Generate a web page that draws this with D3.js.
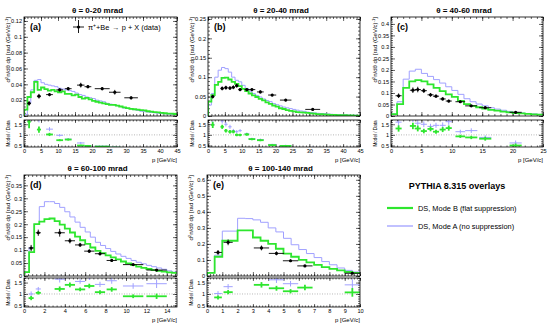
<!DOCTYPE html>
<html>
<head>
<meta charset="UTF-8">
<title>PYTHIA 8.315 overlays</title>
<script src="https://d3js.org/d3.v7.min.js"></script>
<style>
  body { margin: 0; background: #fff; }
  svg { font-family: "Liberation Sans", Arial, sans-serif; }
  .frame { fill: none; stroke: #000; stroke-width: 0.8; }
  .axis path.domain { display: none; }
  .axis line { stroke: #000; stroke-width: 0.6; }
  .axis text { font-size: 5.6px; fill: #000; font-family: "Liberation Sans", Arial, sans-serif; }
  .title { font-size: 8px; font-weight: bold; text-anchor: middle; }
  .tag { font-size: 9px; font-weight: bold; }
  .ytitle { font-size: 6px; text-anchor: end; }
  .rtitle { font-size: 4.6px; text-anchor: middle; }
  .xtitle { font-size: 6px; text-anchor: end; }
  .unity { stroke: #888; stroke-width: 0.6; stroke-dasharray: 1,1.5; }
  .leg { font-size: 7.4px; fill: #000; }
</style>
</head>
<body>
<svg id="chart" width="550" height="326"></svg>
<script>
// ---- panel text ----
const titles = ["θ = 0-20 mrad", "θ = 20-40 mrad", "θ = 40-60 mrad", "θ = 60-100 mrad", "θ = 100-140 mrad"];
const tags = ["(a)", "(b)", "(c)", "(d)", "(e)"];
const xMax = [45, 45, 25, 15, 10];
const yMax = [0.125, 0.255, 0.43, 0.39, 0.63];
const binWidth = [1, 1, 1, 0.5, 0.5];
const xMajor = [5, 5, 5, 2, 1];
const yMajor = [0.02, 0.05, 0.05, 0.05, 0.1];

// ---- (a) 0-20 mrad ----
const aP = [1.5, 4.4, 7.5, 10.5, 13.0, 16.7, 18.8, 23.0, 26.7, 31.5];
const aY = [0.016, 0.025, 0.027, 0.033, 0.0345, 0.039, 0.037, 0.0345, 0.030, 0.023];
const aXe = [0.5, 0.6, 1, 1, 1, 1.1, 1, 2.2, 1.7, 2];
const aYe = [0.003, 0.003, 0.002, 0.002, 0.002, 0.003, 0.002, 0.002, 0.003, 0.002];
const aRatioB = [1.62, 1.25, 1.02, 0.75, 0.78, 0.50, 0.48, 0.45, 0.40, 0.38];
const aRatioA = [1.65, 1.80, 1.27, 0.98, 0.80, 0.62, 0.50, 0.47, 0.42, 0.40];
const aHistB = [0.008, 0.024, 0.030, 0.043, 0.033, 0.036, 0.034, 0.032, 0.033, 0.031, 0.030, 0.031, 0.028, 0.028, 0.026,
  0.027, 0.024, 0.022, 0.023, 0.021, 0.019, 0.018, 0.017, 0.016, 0.015, 0.014, 0.014, 0.013, 0.012, 0.011,
  0.010, 0.009, 0.0085, 0.008, 0.0075, 0.007, 0.006, 0.0055, 0.005, 0.0045, 0.004, 0.0035, 0.003, 0.003, 0.0025];
const aHistA = [0.002, 0.016, 0.033, 0.045, 0.046, 0.042, 0.040, 0.039, 0.038, 0.037, 0.035, 0.034, 0.033, 0.032, 0.031,
  0.029, 0.027, 0.026, 0.024, 0.023, 0.022, 0.020, 0.019, 0.018, 0.016, 0.015, 0.014, 0.013, 0.012, 0.010,
  0.0095, 0.009, 0.008, 0.007, 0.006, 0.0055, 0.005, 0.0045, 0.004, 0.0035, 0.003, 0.0028, 0.0025, 0.002, 0.002];

// ---- (b) 20-40 mrad ----
const bP = [1.4, 4.2, 5.3, 6.5, 7.5, 8.5, 9.5, 11.5, 13.0, 15.5, 19.0, 23.0, 31.0];
const bY = [0.050, 0.071, 0.073, 0.072, 0.074, 0.078, 0.068, 0.068, 0.068, 0.062, 0.054, 0.041, 0.017];
const bXe = [0.5, 0.5, 0.5, 0.5, 0.5, 0.5, 0.5, 0.7, 1, 1, 1.2, 1.7, 2.2];
const bYe = [0.005, 0.005, 0.005, 0.005, 0.005, 0.005, 0.004, 0.004, 0.004, 0.004, 0.003, 0.003, 0.002];
const bRatioB = [1.47, 1.38, 1.20, 1.15, 1.15, 1.00, 1.00, 1.02, 0.80, 0.75, 0.52, 0.48, 0.35];
const bRatioA = [1.50, 1.65, 1.50, 1.38, 1.20, 1.15, 1.20, 1.05, 0.82, 0.78, 0.55, 0.50, 0.40];
const bHistB = [0.037, 0.054, 0.080, 0.088, 0.098, 0.099, 0.094, 0.088, 0.083, 0.077, 0.070, 0.064, 0.058, 0.053, 0.049,
  0.044, 0.040, 0.035, 0.031, 0.027, 0.024, 0.020, 0.018, 0.015, 0.013, 0.012, 0.010, 0.0095, 0.0085, 0.008,
  0.007, 0.006, 0.005, 0.0045, 0.004, 0.0035, 0.003, 0.0028, 0.0025, 0.0022, 0.002, 0.0018, 0.0015, 0.0012, 0.001];
const bHistA = [0.028, 0.058, 0.100, 0.118, 0.125, 0.122, 0.113, 0.100, 0.092, 0.088, 0.079, 0.071, 0.064, 0.058, 0.053,
  0.049, 0.044, 0.040, 0.037, 0.032, 0.029, 0.026, 0.023, 0.021, 0.019, 0.017, 0.015, 0.013, 0.012, 0.010,
  0.009, 0.008, 0.007, 0.0065, 0.006, 0.005, 0.0045, 0.004, 0.0035, 0.003, 0.003, 0.0025, 0.002, 0.002, 0.0015];

// ---- (c) 40-60 mrad ----
const cP = [1.25, 3.6, 4.4, 5.4, 6.5, 7.4, 8.5, 9.5, 11.4, 13.2, 15.5, 20.5];
const cY = [0.088, 0.112, 0.115, 0.110, 0.092, 0.086, 0.074, 0.065, 0.062, 0.044, 0.036, 0.016];
const cXe = [0.5, 0.5, 0.5, 0.5, 0.5, 0.5, 0.5, 0.5, 0.8, 1, 1, 1];
const cYe = [0.010, 0.012, 0.012, 0.010, 0.008, 0.007, 0.007, 0.006, 0.005, 0.004, 0.004, 0.003];
const cRatioB = [1.30, 1.42, 1.30, 1.18, 1.28, 1.15, 1.25, 1.32, 0.93, 0.88, 0.82, 0.50];
const cRatioA = [1.60, 1.80, 1.55, 1.50, 1.40, 1.45, 1.45, 1.62, 1.15, 1.20, 0.88, 0.62];
const cHistB = [0.008, 0.052, 0.122, 0.150, 0.156, 0.150, 0.137, 0.122, 0.108, 0.094, 0.083, 0.066, 0.052, 0.044, 0.038,
  0.032, 0.027, 0.023, 0.019, 0.016, 0.013, 0.011, 0.009, 0.007, 0.006];
const cHistA = [0.008, 0.062, 0.160, 0.195, 0.203, 0.185, 0.172, 0.158, 0.143, 0.127, 0.111, 0.094, 0.075, 0.062, 0.052,
  0.044, 0.036, 0.030, 0.025, 0.020, 0.016, 0.013, 0.011, 0.009, 0.007];

// ---- (d) 60-100 mrad ----
const dP = [0.7, 1.4, 3.5, 4.5, 5.5, 6.4, 7.45, 8.6, 10.7, 13.0];
const dY = [0.108, 0.167, 0.167, 0.136, 0.120, 0.096, 0.086, 0.060, 0.044, 0.023];
const dXe = [0.25, 0.25, 0.5, 0.5, 0.5, 0.5, 0.5, 0.5, 1, 1];
const dYe = [0.012, 0.012, 0.015, 0.010, 0.008, 0.007, 0.007, 0.005, 0.004, 0.003];
const dRatioB = [0.82, 1.05, 1.22, 1.40, 1.20, 1.35, 1.08, 1.20, 0.90, 0.90];
const dRatioA = [1.00, 1.22, 1.65, 1.85, 1.55, 1.75, 1.42, 1.58, 1.35, 1.45];
const dHistB = [0.015, 0.092, 0.200, 0.210, 0.220, 0.222, 0.212, 0.198, 0.183, 0.168, 0.152, 0.138, 0.124, 0.110, 0.097,
  0.088, 0.080, 0.072, 0.064, 0.056, 0.049, 0.042, 0.036, 0.031, 0.027, 0.023, 0.020, 0.017, 0.014, 0.012];
const dHistA = [0.015, 0.110, 0.200, 0.268, 0.287, 0.287, 0.280, 0.265, 0.248, 0.228, 0.208, 0.188, 0.170, 0.150, 0.130,
  0.118, 0.106, 0.095, 0.085, 0.076, 0.068, 0.060, 0.053, 0.047, 0.041, 0.036, 0.031, 0.026, 0.020, 0.015];

// ---- (e) 100-140 mrad ----
const eP = [0.72, 1.38, 3.56, 4.54, 5.46, 6.4, 9.5];
const eY = [0.147, 0.210, 0.175, 0.141, 0.095, 0.063, 0.017];
const eXe = [0.25, 0.3, 0.5, 0.5, 0.5, 0.5, 0.5];
const eYe = [0.015, 0.018, 0.015, 0.012, 0.008, 0.006, 0.003];
const eRatioB = [0.85, 1.08, 1.40, 1.25, 1.12, 1.28, 1.07];
const eRatioA = [1.02, 1.32, 1.95, 1.62, 1.45, 1.90, 1.40];
const eHistB = [0.020, 0.120, 0.220, 0.220, 0.285, 0.285, 0.240, 0.220, 0.200, 0.170, 0.140, 0.120, 0.100, 0.085, 0.070,
  0.055, 0.045, 0.035, 0.025, 0.020];
const eHistA = [0.020, 0.130, 0.280, 0.280, 0.360, 0.358, 0.350, 0.335, 0.300, 0.275, 0.235, 0.195, 0.165, 0.140, 0.115,
  0.090, 0.070, 0.050, 0.035, 0.025];

// ---- legend ----
const dataLabel = ["π", "+", "+Be", "→", "p + X (data)"];
const legendTitle = "PYTHIA 8.315 overlays";
const seriesNames = ["DS, Mode B (flat suppression)", "DS, Mode A (no suppression)"];

const green = "#2ee62e";
const blue = "#a0a0ff";

// pad geometry (pixels)
const pads = [
  { x0: 24, x1: 177, top: 17, mid: 116, rTop: 120, rBot: 147 },
  { x0: 208, x1: 360, top: 17, mid: 116, rTop: 120, rBot: 147 },
  { x0: 391, x1: 543, top: 17, mid: 116, rTop: 120, rBot: 147 },
  { x0: 24, x1: 177, top: 175, mid: 276, rTop: 278, rBot: 307 },
  { x0: 207, x1: 360, top: 175, mid: 276, rTop: 278, rBot: 307 }
];

const panelData = [
  [aP, aY, aXe, aYe, aRatioB, aRatioA, aHistB, aHistA],
  [bP, bY, bXe, bYe, bRatioB, bRatioA, bHistB, bHistA],
  [cP, cY, cXe, cYe, cRatioB, cRatioA, cHistB, cHistA],
  [dP, dY, dXe, dYe, dRatioB, dRatioA, dHistB, dHistA],
  [eP, eY, eXe, eYe, eRatioB, eRatioA, eHistB, eHistA]
];

const svg = d3.select("#chart");
const fmt = d => d === 0 ? "0" : String(+d.toFixed(3));

function addTicks(g, axis, scale, step, fine, len, labels) {
  const [lo, hi] = scale.domain();
  const major = d3.range(0, hi + 1e-9, step).filter(v => v >= lo - 1e-9);
  const minor = d3.range(0, hi + 1e-9, fine).filter(v => v >= lo - 1e-9);
  g.append("g").attr("class", "axis")
    .call(axis(scale).tickValues(minor).tickSize(-len / 2).tickFormat(""));
  g.append("g").attr("class", "axis")
    .call(axis(scale).tickValues(major).tickSize(-len).tickPadding(2)
      .tickFormat(labels ? fmt : ""));
}

pads.forEach((pad, k) => {
  const [p, y, xe, ye, rB, rA, hB, hA] = panelData[k];
  const x = d3.scaleLinear().domain([0, xMax[k]]).range([pad.x0, pad.x1]);
  const yU = d3.scaleLinear().domain([0, yMax[k]]).range([pad.mid, pad.top]);
  const yR = d3.scaleLinear().domain([0.43, 1.7]).range([pad.rBot, pad.rTop]);

  svg.append("text").attr("class", "title")
    .attr("x", (pad.x0 + pad.x1) / 2 - 3).attr("y", pad.top - 4).text(titles[k]);

  const defs = svg.append("defs");
  defs.append("clipPath").attr("id", "cu" + k).append("rect")
    .attr("x", pad.x0).attr("y", pad.top).attr("width", pad.x1 - pad.x0).attr("height", pad.mid - pad.top);
  defs.append("clipPath").attr("id", "cr" + k).append("rect")
    .attr("x", pad.x0).attr("y", pad.rTop).attr("width", pad.x1 - pad.x0).attr("height", pad.rBot - pad.rTop);

  // ---- upper pad ----
  const up = svg.append("g");
  const left = up.append("g").attr("transform", `translate(${pad.x0},0)`);
  addTicks(left, d3.axisLeft, yU, yMajor[k], yMajor[k] / 5, 4, true);
  const right = up.append("g").attr("transform", `translate(${pad.x1},0)`);
  addTicks(right, d3.axisRight, yU, yMajor[k], yMajor[k] / 5, 4, false);
  const topAx = up.append("g").attr("transform", `translate(0,${pad.top})`);
  addTicks(topAx, d3.axisTop, x, xMajor[k], xMajor[k] / 5, 4, false);
  const botAx = up.append("g").attr("transform", `translate(0,${pad.mid})`);
  addTicks(botAx, d3.axisBottom, x, xMajor[k], xMajor[k] / 5, 4, false);

  const edges = d3.range(0, xMax[k] + binWidth[k] / 2, binWidth[k]);
  const step = d3.line().curve(d3.curveStepAfter).x(d => x(d[0])).y(d => yU(d[1]));
  const stepPts = h => [[edges[0], 0]].concat(h.map((v, i) => [edges[i], v]), [[edges[h.length], h[h.length - 1]]]);
  const hist = up.append("g").attr("clip-path", `url(#cu${k})`);
  hist.append("path").attr("d", step(stepPts(hA))).attr("fill", "none").attr("stroke", blue).attr("stroke-width", 1);
  hist.append("path").attr("d", step(stepPts(hB))).attr("fill", "none").attr("stroke", green).attr("stroke-width", 1.8);

  const pts = hist.selectAll(".pt").data(p.map((v, i) => i)).enter().append("g");
  pts.append("line").attr("x1", i => x(p[i] - xe[i])).attr("x2", i => x(p[i] + xe[i]))
    .attr("y1", i => yU(y[i])).attr("y2", i => yU(y[i])).attr("stroke", "#000").attr("stroke-width", 0.9);
  pts.append("line").attr("x1", i => x(p[i])).attr("x2", i => x(p[i]))
    .attr("y1", i => yU(y[i] - ye[i])).attr("y2", i => yU(y[i] + ye[i])).attr("stroke", "#000").attr("stroke-width", 0.9);
  pts.append("circle").attr("cx", i => x(p[i])).attr("cy", i => yU(y[i])).attr("r", 1.6).attr("fill", "#000");

  up.append("rect").attr("class", "frame").attr("x", pad.x0).attr("y", pad.top)
    .attr("width", pad.x1 - pad.x0).attr("height", pad.mid - pad.top);

  svg.append("text").attr("class", "tag").attr("x", pad.x0 + 6).attr("y", pad.top + 13).text(tags[k]);

  const yt = svg.append("text").attr("class", "ytitle")
    .attr("transform", `translate(${pad.x0 - 14},${pad.top}) rotate(-90)`);
  yt.append("tspan").text("d");
  yt.append("tspan").attr("dy", -2).attr("font-size", "4.2px").text("2");
  yt.append("tspan").attr("dy", 2).text("n/dθ dp [rad (GeV/c)");
  yt.append("tspan").attr("dy", -2).attr("font-size", "4.2px").text("-1");
  yt.append("tspan").attr("dy", 2).text("]");

  // ---- ratio pad ----
  const rp = svg.append("g");
  const rl = rp.append("g").attr("transform", `translate(${pad.x0},0)`);
  addTicks(rl, d3.axisLeft, yR, 0.5, 0.1, 4, true);
  const rr = rp.append("g").attr("transform", `translate(${pad.x1},0)`);
  addTicks(rr, d3.axisRight, yR, 0.5, 0.1, 4, false);
  const rt = rp.append("g").attr("transform", `translate(0,${pad.rTop})`);
  addTicks(rt, d3.axisTop, x, xMajor[k], xMajor[k] / 5, 3, false);
  const rb = rp.append("g").attr("transform", `translate(0,${pad.rBot})`);
  addTicks(rb, d3.axisBottom, x, xMajor[k], xMajor[k] / 5, 3, true);

  rp.append("line").attr("class", "unity").attr("x1", x(0)).attr("x2", x(xMax[k]))
    .attr("y1", yR(1)).attr("y2", yR(1));

  const rc = rp.append("g").attr("clip-path", `url(#cr${k})`);
  [[rA, blue, 1], [rB, green, 1.8]].forEach(([r, col, w]) => {
    const g = rc.selectAll(null).data(p.map((v, i) => i)).enter().append("g");
    g.append("line").attr("x1", i => x(p[i] - xe[i])).attr("x2", i => x(p[i] + xe[i]))
      .attr("y1", i => yR(r[i])).attr("y2", i => yR(r[i])).attr("stroke", col).attr("stroke-width", w);
    g.append("line").attr("x1", i => x(p[i])).attr("x2", i => x(p[i]))
      .attr("y1", i => yR(r[i] * (1 - ye[i] / y[i]))).attr("y2", i => yR(r[i] * (1 + ye[i] / y[i])))
      .attr("stroke", col).attr("stroke-width", w);
  });

  rp.append("rect").attr("class", "frame").attr("x", pad.x0).attr("y", pad.rTop)
    .attr("width", pad.x1 - pad.x0).attr("height", pad.rBot - pad.rTop);

  svg.append("text").attr("class", "rtitle")
    .attr("transform", `translate(${pad.x0 - 14},${(pad.rTop + pad.rBot) / 2}) rotate(-90)`)
    .text("Model / Data");
  svg.append("text").attr("class", "xtitle").attr("x", pad.x1).attr("y", pad.rBot + 15).text("p [GeV/c]");
});

// ---- data legend inside (a) ----
const la = svg.append("g");
la.append("line").attr("x1", 73).attr("x2", 84).attr("y1", 27).attr("y2", 27).attr("stroke", "#000").attr("stroke-width", 0.9);
la.append("line").attr("x1", 78.5).attr("x2", 78.5).attr("y1", 20).attr("y2", 33).attr("stroke", "#000").attr("stroke-width", 0.9);
la.append("circle").attr("cx", 78.5).attr("cy", 27).attr("r", 1.6).attr("fill", "#000");
const lt = la.append("text").attr("class", "leg").attr("x", 88).attr("y", 29.5);
lt.append("tspan").text(dataLabel[0]);
lt.append("tspan").attr("dy", -2.5).attr("font-size", "5px").text(dataLabel[1]);
lt.append("tspan").attr("dy", 2.5).text(dataLabel[2]);
const ltEnd = 88 + lt.node().getComputedTextLength();
const arrow = la.append("text").attr("class", "leg").attr("x", ltEnd + 2.5).attr("y", 29.5).text(dataLabel[3]);
const arEnd = ltEnd + 2.5 + arrow.node().getComputedTextLength();
la.append("text").attr("class", "leg").attr("x", arEnd + 2.5).attr("y", 29.5).text(dataLabel[4]);

// ---- model legend ----
const lg = svg.append("g");
lg.append("text").attr("x", 457).attr("y", 189).attr("text-anchor", "middle")
  .attr("font-size", "9px").attr("font-weight", "bold").text(legendTitle);
[[green, 2.2, 208], [blue, 1.3, 226]].forEach(([col, w, yy], i) => {
  lg.append("line").attr("x1", 387).attr("x2", 413).attr("y1", yy).attr("y2", yy)
    .attr("stroke", col).attr("stroke-width", w);
  lg.append("text").attr("class", "leg").attr("x", 418).attr("y", yy + 2.6).text(seriesNames[i]);
});
</script>
</body>
</html>
